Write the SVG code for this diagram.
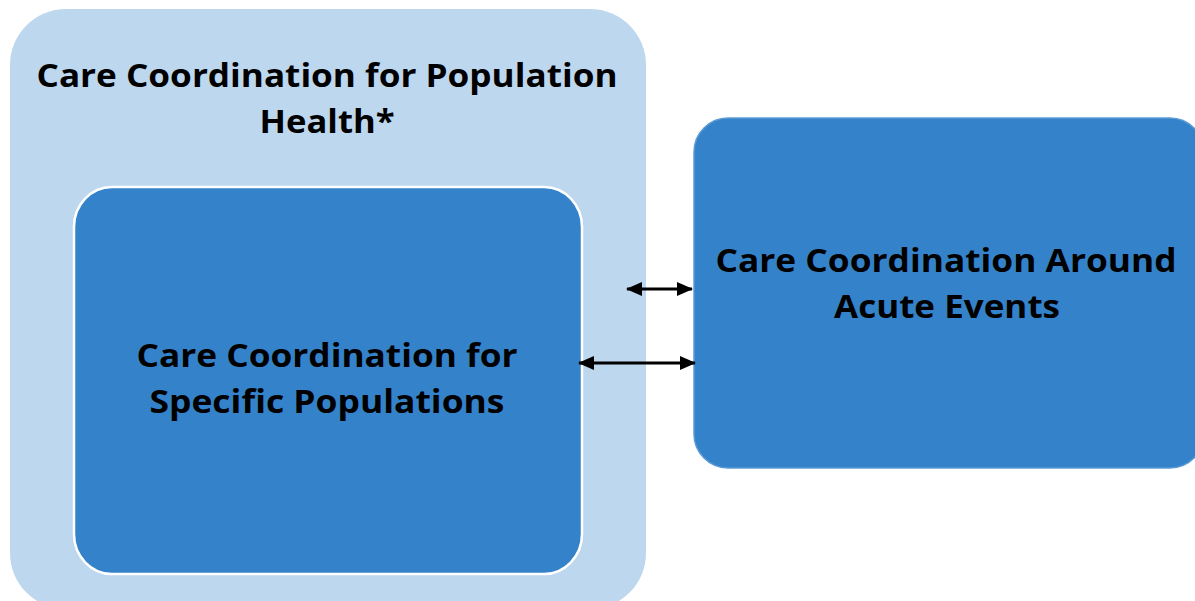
<svg xmlns="http://www.w3.org/2000/svg" width="1195" height="601" viewBox="0 0 1195 601">
<defs>
<style>
.t{font-family:"Open Sans","Liberation Sans",sans-serif;font-weight:bold;font-size:33px;fill:#000;text-anchor:middle}
.c{stroke:#000;stroke-width:3;fill:none}
</style>
<marker id="ah" viewBox="0 0 16 14" refX="15" refY="7" markerWidth="16" markerHeight="14" markerUnits="userSpaceOnUse" orient="auto-start-reverse">
<path d="M0,0 L16,7 L0,14 Z" fill="#000"/>
</marker>
</defs>
<rect width="1195" height="601" fill="#fff"/>
<g id="population-health">
<rect x="10" y="9" width="636" height="600" rx="56" ry="56" fill="#BDD7EE"/>
<text class="t" x="327" y="87" textLength="581" lengthAdjust="spacingAndGlyphs">Care Coordination for Population</text>
<text class="t" x="327" y="133" textLength="135" lengthAdjust="spacingAndGlyphs">Health*</text>
</g>
<g id="specific-populations">
<rect x="74" y="187" width="508" height="387" rx="38" ry="40" fill="#3483CA" stroke="#fff" stroke-width="2.5"/>
<text class="t" x="327" y="367" textLength="381" lengthAdjust="spacingAndGlyphs">Care Coordination for</text>
<text class="t" x="327" y="413" textLength="355" lengthAdjust="spacingAndGlyphs">Specific Populations</text>
</g>
<g id="acute-events">
<rect x="694" y="118" width="510" height="350" rx="34" ry="34" fill="#3483CA" stroke="#5B9BD5" stroke-width="1.5"/>
<text class="t" x="946" y="272" textLength="461" lengthAdjust="spacingAndGlyphs">Care Coordination Around</text>
<text class="t" x="947" y="318" textLength="226" lengthAdjust="spacingAndGlyphs">Acute Events</text>
</g>
<g id="connectors">
<line class="c" x1="627" y1="289" x2="692" y2="289" marker-start="url(#ah)" marker-end="url(#ah)"/>
<line class="c" x1="579" y1="363" x2="695" y2="363" marker-start="url(#ah)" marker-end="url(#ah)"/>
</g>
</svg>
